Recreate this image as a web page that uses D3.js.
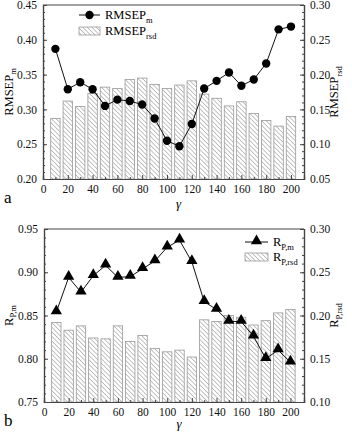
<!DOCTYPE html>
<html>
<head>
<meta charset="utf-8">
<script src="https://cdn.jsdelivr.net/npm/d3@7"></script>
<style>
  body { margin: 0; background: #fff; }
  svg { font-family: "Liberation Serif", "Times New Roman", serif; }
</style>
</head>
<body>
<div id="chart"></div>
<script>
const gammas = [10, 20, 30, 40, 50, 60, 70, 80, 90, 100, 110, 120, 130, 140, 150, 160, 170, 180, 190, 200];

// panel a
const rmsepM = [0.387, 0.329, 0.339, 0.329, 0.305, 0.314, 0.312, 0.307, 0.287, 0.255, 0.247, 0.279,
                0.330, 0.341, 0.353, 0.334, 0.343, 0.366, 0.415, 0.419];
const rmsepRsd = [0.137, 0.162, 0.154, 0.173, 0.182, 0.180, 0.193, 0.195, 0.186, 0.180, 0.185, 0.191,
                  0.172, 0.166, 0.155, 0.161, 0.144, 0.134, 0.126, 0.140];

// panel b
const rpM = [0.854, 0.894, 0.877, 0.896, 0.908, 0.894, 0.895, 0.904, 0.913, 0.929, 0.937, 0.912,
             0.866, 0.857, 0.843, 0.843, 0.826, 0.800, 0.810, 0.796];
const rpRsd = [0.192, 0.183, 0.188, 0.174, 0.173, 0.188, 0.170, 0.177, 0.162, 0.158, 0.160, 0.152,
               0.195, 0.193, 0.200, 0.198, 0.189, 0.194, 0.203, 0.207];

const xTicks = [0, 20, 40, 60, 80, 100, 120, 140, 160, 180, 200];

const width = 352, height = 433;
const axisColor = "#444";

const svg = d3.select("#chart").append("svg")
  .attr("width", width)
  .attr("height", height);

// hatch pattern for the bars
const defs = svg.append("defs");
defs.append("pattern")
  .attr("id", "hatch")
  .attr("patternUnits", "userSpaceOnUse")
  .attr("width", 3.2)
  .attr("height", 3.2)
  .attr("patternTransform", "rotate(-45)")
  .append("line")
  .attr("x1", 0).attr("y1", 0)
  .attr("x2", 0).attr("y2", 3.2)
  .attr("stroke", "#6a6a6a")
  .attr("stroke-width", 0.8);

function drawPanel(opt) {
  const g = svg.append("g");
  const x = d3.scaleLinear().domain([0, opt.xMax]).range([opt.left, opt.right]);
  const yL = d3.scaleLinear().domain(opt.leftDomain).range([opt.bottom, opt.top]);
  const yR = d3.scaleLinear().domain(opt.rightDomain).range([opt.bottom, opt.top]);
  const barW = x(7.6) - x(0);

  // bars
  g.selectAll("rect.bar")
    .data(gammas)
    .enter()
    .append("rect")
    .attr("class", "bar")
    .attr("x", d => x(d) - barW / 2)
    .attr("y", (d, i) => yR(opt.bars[i]))
    .attr("width", barW)
    .attr("height", (d, i) => opt.bottom - yR(opt.bars[i]))
    .attr("fill", "url(#hatch)")
    .attr("stroke", "#999")
    .attr("stroke-width", 0.8);

  // line
  const line = d3.line().x(d => x(d[0])).y(d => yL(d[1]));
  const pts = gammas.map((d, i) => [d, opt.line[i]]);
  g.append("path")
    .datum(pts)
    .attr("d", line)
    .attr("fill", "none")
    .attr("stroke", "#111")
    .attr("stroke-width", 1);

  const sym = d3.symbol().type(opt.symbol).size(opt.symbolSize);
  g.selectAll("path.pt")
    .data(pts)
    .enter()
    .append("path")
    .attr("class", "pt")
    .attr("transform", d => "translate(" + x(d[0]) + "," + (yL(d[1]) + opt.symbolDy) + ")")
    .attr("d", sym)
    .attr("fill", "#000");

  // axes, ticks inward
  const minor = (sc, step) => d3.range(sc.domain()[0], sc.domain()[1] + 1e-9, step);

  const xAxis = d3.axisBottom(x).tickValues(xTicks).tickSize(-4).tickPadding(6);
  g.append("g")
    .attr("transform", "translate(0," + opt.bottom + ")")
    .call(xAxis);
  g.append("g")
    .attr("transform", "translate(0," + opt.bottom + ")")
    .call(d3.axisBottom(x).tickValues(d3.range(10, 210, 20)).tickSize(-2).tickFormat(""));

  const yAxisL = d3.axisLeft(yL).tickValues(opt.leftTicks).tickSize(-4).tickPadding(6)
    .tickFormat(d3.format(".2f"));
  g.append("g")
    .attr("transform", "translate(" + opt.left + ",0)")
    .call(yAxisL);
  g.append("g")
    .attr("transform", "translate(" + opt.left + ",0)")
    .call(d3.axisLeft(yL).tickValues(minor(yL, 0.01)).tickSize(-2).tickFormat(""));

  const yAxisR = d3.axisRight(yR).tickValues(opt.rightTicks).tickSize(-4).tickPadding(6)
    .tickFormat(d3.format(".2f"));
  g.append("g")
    .attr("transform", "translate(" + opt.right + ",0)")
    .call(yAxisR);
  g.append("g")
    .attr("transform", "translate(" + opt.right + ",0)")
    .call(d3.axisRight(yR).tickValues(minor(yR, 0.01)).tickSize(-2).tickFormat(""));

  // top frame
  g.append("line")
    .attr("x1", opt.left).attr("x2", opt.right)
    .attr("y1", opt.top).attr("y2", opt.top)
    .attr("stroke", axisColor).attr("stroke-width", 1.2);

  g.selectAll(".domain").attr("stroke", axisColor).attr("stroke-width", 1.2);
  g.selectAll(".tick line").attr("stroke", axisColor);
  g.selectAll(".tick text")
    .attr("font-family", "Liberation Serif")
    .attr("font-size", 11.5)
    .attr("fill", "#111");

  // axis titles
  g.append("text")
    .attr("x", (opt.left + opt.right) / 2 + 5)
    .attr("y", opt.bottom + opt.gammaDy)
    .attr("text-anchor", "middle")
    .attr("font-size", 13)
    .attr("font-style", "italic")
    .text("γ");

  g.append("text")
    .attr("x", 4)
    .attr("y", opt.bottom + 24)
    .attr("font-size", 17)
    .text(opt.letter);

  const lt = g.append("text")
    .attr("transform", "translate(" + opt.leftTitleX + "," + ((opt.top + opt.bottom) / 2) + ") rotate(-90)")
    .attr("text-anchor", "middle")
    .attr("font-size", 12.5);
  lt.append("tspan").text(opt.titleBase);
  lt.append("tspan").attr("font-size", 8.5).attr("dy", 3.5).text(opt.leftSub);

  const rt = g.append("text")
    .attr("transform", "translate(" + opt.rightTitleX + "," + ((opt.top + opt.bottom) / 2) + ") rotate(-90)")
    .attr("text-anchor", "middle")
    .attr("font-size", 12.5);
  rt.append("tspan").text(opt.titleBase);
  rt.append("tspan").attr("font-size", 8.5).attr("dy", 3.5).text(opt.rightSub);

  // legend
  const lg = g.append("g").attr("transform", "translate(" + opt.legendX + "," + opt.legendY + ")");
  lg.append("line")
    .attr("x1", 0).attr("x2", opt.legendW)
    .attr("y1", 0).attr("y2", 0)
    .attr("stroke", "#111");
  lg.append("path")
    .attr("transform", "translate(" + (opt.legendW / 2) + "," + opt.symbolDy + ")")
    .attr("d", sym)
    .attr("fill", "#000");
  const l1 = lg.append("text")
    .attr("x", opt.legendW + 5).attr("y", 4)
    .attr("font-size", 12.5);
  l1.append("tspan").text(opt.titleBase);
  l1.append("tspan").attr("font-size", 8.5).attr("dy", 4).text(opt.leftSub);

  lg.append("rect")
    .attr("x", 0).attr("y", opt.legendGap - 4)
    .attr("width", opt.legendW).attr("height", 8)
    .attr("fill", "url(#hatch)")
    .attr("stroke", "#999")
    .attr("stroke-width", 0.8);
  const l2 = lg.append("text")
    .attr("x", opt.legendW + 5).attr("y", opt.legendGap + 4)
    .attr("font-size", 12.5);
  l2.append("tspan").text(opt.titleBase);
  l2.append("tspan").attr("font-size", 8.5).attr("dy", 4).text(opt.rightSub);
}

drawPanel({
  left: 43, right: 304, top: 5, bottom: 179, xMax: 210.5,
  leftDomain: [0.20, 0.45], rightDomain: [0.05, 0.30],
  leftTicks: [0.20, 0.25, 0.30, 0.35, 0.40, 0.45],
  rightTicks: [0.05, 0.10, 0.15, 0.20, 0.25, 0.30],
  bars: rmsepRsd, line: rmsepM,
  symbol: d3.symbolCircle, symbolSize: 55, symbolDy: 0,
  letter: "a", titleBase: "RMSEP", leftSub: "m", rightSub: "rsd",
  leftTitleX: 12.5, rightTitleX: 338, gammaDy: 29,
  legendX: 79, legendY: 15, legendW: 21, legendGap: 16
});

drawPanel({
  left: 44, right: 304, top: 229, bottom: 402, xMax: 211,
  leftDomain: [0.75, 0.95], rightDomain: [0.10, 0.30],
  leftTicks: [0.75, 0.80, 0.85, 0.90, 0.95],
  rightTicks: [0.10, 0.15, 0.20, 0.25, 0.30],
  bars: rpRsd, line: rpM,
  symbol: d3.symbolTriangle, symbolSize: 55, symbolDy: -1,
  letter: "b", titleBase: "R", leftSub: "P,m", rightSub: "P,rsd",
  leftTitleX: 12.5, rightTitleX: 338, gammaDy: 26,
  legendX: 245, legendY: 242, legendW: 23, legendGap: 15
});
</script>
</body>
</html>
